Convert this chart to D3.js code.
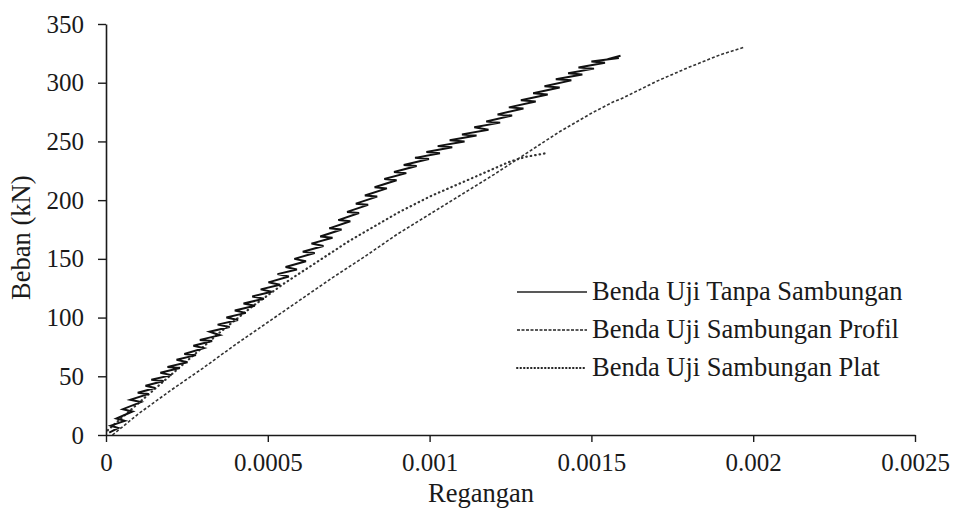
<!DOCTYPE html>
<html>
<head>
<meta charset="utf-8">
<script src="https://cdn.jsdelivr.net/npm/d3@7"></script>
<style>
  body { margin: 0; background: #fff; }
  svg text { fill: #1a1a1a; }
</style>
</head>
<body>
<div id="chart"></div>
<script>
// strain ticks and load ticks
const xTicks = [0, 0.0005, 0.001, 0.0015, 0.002, 0.0025];
const xTickLabels = ['0', '0.0005', '0.001', '0.0015', '0.002', '0.0025'];
const yTicks = [0, 50, 100, 150, 200, 250, 300, 350];

const seriesNames = ['Benda Uji Tanpa Sambungan', 'Benda Uji Sambungan Profil', 'Benda Uji Sambungan Plat'];

// Benda Uji Tanpa Sambungan: [regangan, beban] (noisy, zig-zag readings)
const tanpa = [
  [0.000010, 2], [0.000038, 6], [0.000015, 8], [0.000058, 12], [0.000032, 14], [0.000082, 20],
  [0.000052, 22], [0.000108, 28], [0.000075, 30], [0.000132, 35], [0.000098, 36], [0.000152, 40],
  [0.000122, 42], [0.000178, 46], [0.000140, 47], [0.000202, 51], [0.000168, 53], [0.000228, 57],
  [0.000190, 58], [0.000252, 62], [0.000218, 64], [0.000278, 68], [0.000242, 69], [0.000302, 74],
  [0.000270, 76], [0.000328, 80], [0.000290, 81], [0.000352, 85], [0.000320, 88], [0.000382, 92],
  [0.000345, 94], [0.000408, 98], [0.000372, 100], [0.000432, 104], [0.000398, 106], [0.000460, 110],
  [0.000425, 112], [0.000488, 116], [0.000452, 118], [0.000512, 122], [0.000478, 124], [0.000538, 128],
  [0.000502, 130], [0.000565, 135], [0.000530, 137], [0.000590, 141], [0.000555, 143], [0.000618, 148],
  [0.000582, 150], [0.000645, 155], [0.000608, 156], [0.000672, 161], [0.000635, 163], [0.000700, 168],
  [0.000662, 169], [0.000728, 175], [0.000690, 176], [0.000755, 182], [0.000718, 183], [0.000782, 189],
  [0.000745, 190], [0.000810, 196], [0.000772, 197], [0.000838, 203], [0.000800, 204], [0.000868, 210],
  [0.000830, 211], [0.000898, 217], [0.000860, 218], [0.000928, 223], [0.000890, 224], [0.000960, 229],
  [0.000920, 230], [0.000998, 235], [0.000955, 236], [0.001032, 240], [0.000990, 241], [0.001070, 245],
  [0.001025, 246], [0.001108, 250], [0.001062, 251], [0.001145, 255], [0.001100, 256], [0.001182, 260],
  [0.001138, 262], [0.001218, 266], [0.001175, 267], [0.001255, 272], [0.001210, 273], [0.001290, 278],
  [0.001245, 279], [0.001328, 284], [0.001282, 285], [0.001365, 290], [0.001320, 291], [0.001402, 296],
  [0.001355, 297], [0.001438, 302], [0.001390, 303], [0.001472, 307], [0.001428, 308], [0.001508, 312],
  [0.001460, 313], [0.001542, 317], [0.001500, 318], [0.001585, 321], [0.001550, 320], [0.001590, 323]
];

// Benda Uji Sambungan Profil
const profil = [
  [0.00002, 0], [0.0001, 18], [0.0002, 38], [0.0003, 57], [0.0004, 77], [0.0005, 96],
  [0.0006, 115], [0.0007, 134], [0.0008, 152], [0.0009, 171], [0.001, 188], [0.0011, 205],
  [0.0012, 222], [0.0013, 240], [0.0014, 258], [0.0015, 274], [0.00157, 284], [0.00159, 286],
  [0.0017, 301], [0.0018, 313], [0.0019, 324], [0.00197, 330]
];

// Benda Uji Sambungan Plat
const plat = [
  [0.000005, 4], [0.00005, 15], [0.0001, 27], [0.00015, 39], [0.0002, 51], [0.00025, 63],
  [0.0003, 75], [0.00035, 87], [0.0004, 98], [0.00045, 109], [0.0005, 119], [0.00055, 129],
  [0.0006, 138], [0.00065, 147], [0.0007, 156], [0.00075, 165], [0.0008, 173], [0.00085, 181],
  [0.0009, 189], [0.00095, 196], [0.001, 203], [0.00105, 209], [0.0011, 215], [0.00115, 221],
  [0.0012, 227], [0.00125, 233], [0.0013, 237], [0.00136, 240]
];

const width = 954, height = 513;
const margin = {top: 24, right: 39, bottom: 78, left: 106};

const svg = d3.select('#chart').append('svg')
  .attr('width', width)
  .attr('height', height);

const x = d3.scaleLinear().domain([0, 0.0025]).range([margin.left, width - margin.right]);
const y = d3.scaleLinear().domain([0, 350]).range([height - margin.bottom, margin.top]);

const serifFont = '"Liberation Serif", "Times New Roman", serif';
const ink = '#1a1a1a';

// series lines
const line = d3.line().x(d => x(d[0])).y(d => y(d[1]));

svg.append('path')
  .attr('d', line(profil))
  .style('fill', 'none')
  .style('stroke', '#333')
  .style('stroke-width', 1.6)
  .style('stroke-dasharray', '3,2');

svg.append('path')
  .attr('d', line(plat))
  .style('fill', 'none')
  .style('stroke', '#333')
  .style('stroke-width', 2.2)
  .style('stroke-linecap', 'round')
  .style('stroke-dasharray', '0.5,4');

svg.append('path')
  .attr('d', line(tanpa))
  .style('fill', 'none')
  .style('stroke', '#111')
  .style('stroke-width', 2)
  .style('stroke-linejoin', 'miter');

// axes
const xAxis = svg.append('g')
  .attr('transform', `translate(0,${y(0)})`)
  .call(d3.axisBottom(x).tickValues(xTicks).tickSize(7).tickSizeOuter(0)
    .tickFormat((d, i) => xTickLabels[i]));

const yAxis = svg.append('g')
  .attr('transform', `translate(${x(0)},0)`)
  .call(d3.axisLeft(y).tickValues(yTicks).tickSize(8).tickSizeOuter(0));

[xAxis, yAxis].forEach(g => {
  g.select('.domain').style('stroke', ink).style('stroke-width', 1.6);
  g.selectAll('.tick line').style('stroke', ink).style('stroke-width', 1.4);
  g.selectAll('.tick text')
    .style('font-family', serifFont)
    .style('font-size', '25px')
    .style('fill', ink);
});
xAxis.selectAll('.tick text').attr('y', 18);
yAxis.selectAll('.tick text').attr('x', -22);

// axis titles
svg.append('text')
  .attr('x', 481)
  .attr('y', 502)
  .style('text-anchor', 'middle')
  .style('font-family', serifFont)
  .style('font-size', '26.5px')
  .text('Regangan');

svg.append('text')
  .attr('transform', `translate(30,${y(168)}) rotate(-90)`)
  .style('text-anchor', 'middle')
  .style('font-family', serifFont)
  .style('font-size', '26.5px')
  .text('Beban (kN)');

// legend
const legendRows = [
  {name: seriesNames[0], dash: null, width: 1.6, cap: 'butt'},
  {name: seriesNames[1], dash: '3,1.5', width: 1.4, cap: 'butt'},
  {name: seriesNames[2], dash: '0.5,3', width: 2, cap: 'round'}
];
const legend = svg.append('g');
legendRows.forEach((r, i) => {
  const cy = 292 + i * 38;
  legend.append('line')
    .attr('x1', 517).attr('x2', 587)
    .attr('y1', cy).attr('y2', cy)
    .style('stroke', '#222')
    .style('stroke-width', r.width)
    .style('stroke-linecap', r.cap)
    .style('stroke-dasharray', r.dash);
  legend.append('text')
    .attr('x', 592)
    .attr('y', cy + 8)
    .style('font-family', serifFont)
    .style('font-size', '26.5px')
    .text(r.name);
});
</script>
</body>
</html>
